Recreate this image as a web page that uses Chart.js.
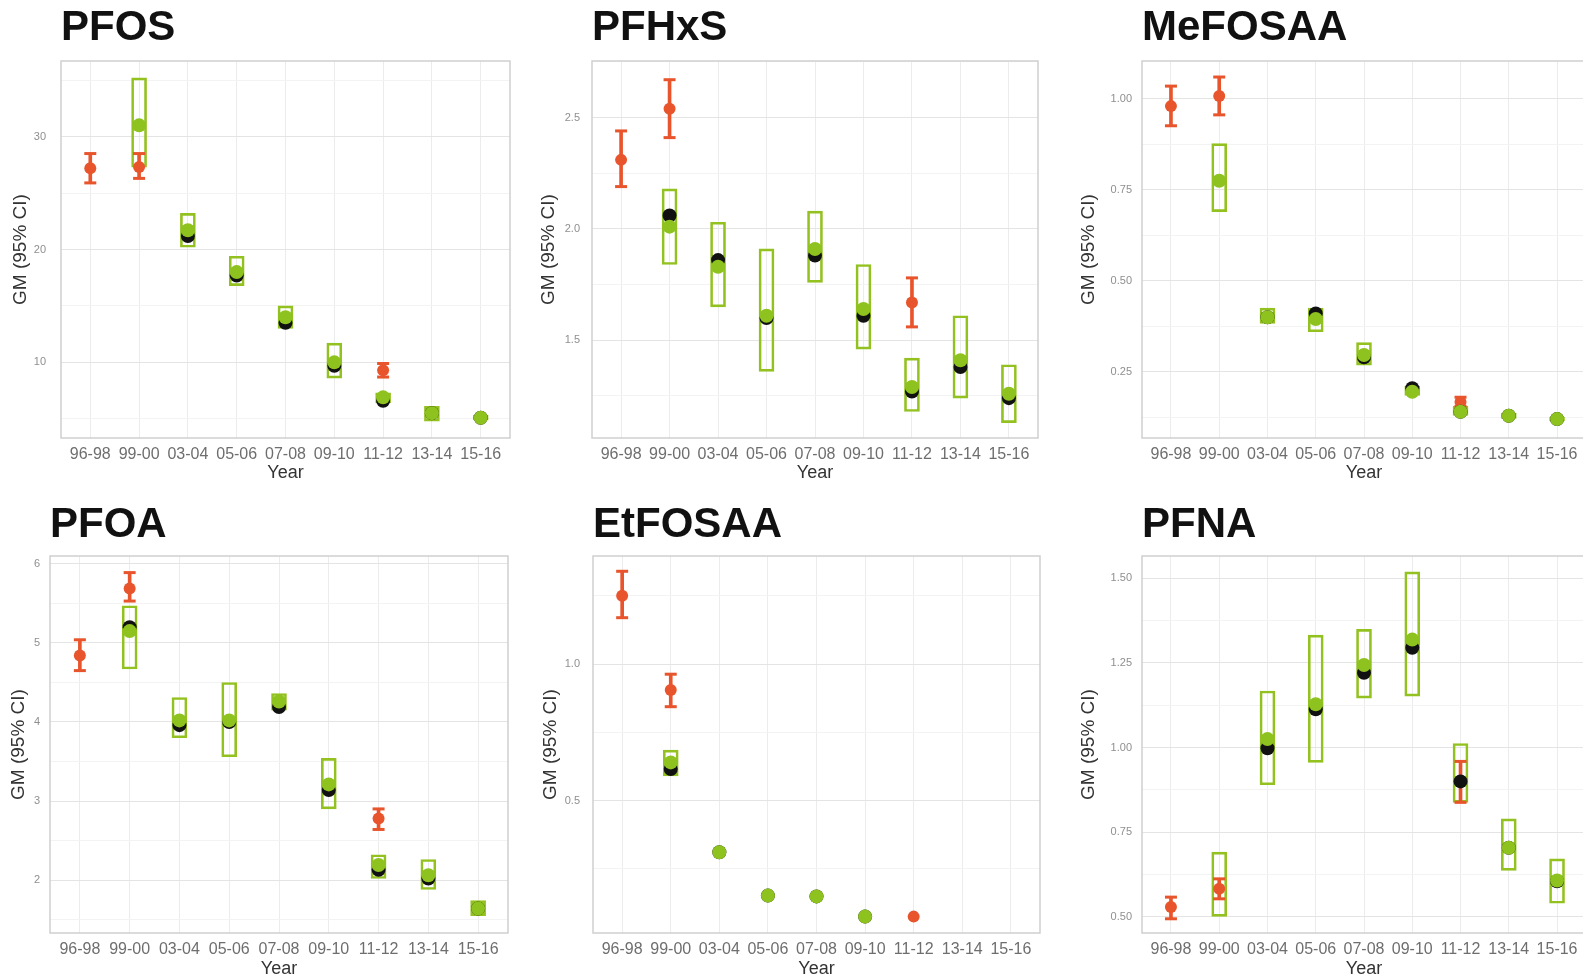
<!DOCTYPE html>
<html>
<head>
<meta charset="utf-8">
<script src="https://cdn.jsdelivr.net/npm/chart.js@4.4.1/dist/chart.umd.min.js"></script>
<style>
  html, body { margin: 0; padding: 0; background: #ffffff; }
  body { width: 1583px; height: 977px; overflow: hidden; position: relative; }
  .panel { position: absolute; }
  .panel canvas { display: block; }
</style>
</head>
<body>
<div class="panel" id="w1" style="left:0px;top:0px;width:530px;height:490px"><canvas id="c1"></canvas></div>
<div class="panel" id="w2" style="left:530px;top:0px;width:530px;height:490px"><canvas id="c2"></canvas></div>
<div class="panel" id="w3" style="left:1060px;top:0px;width:545px;height:490px"><canvas id="c3"></canvas></div>
<div class="panel" id="w4" style="left:0px;top:490px;width:530px;height:490px"><canvas id="c4"></canvas></div>
<div class="panel" id="w5" style="left:530px;top:490px;width:530px;height:490px"><canvas id="c5"></canvas></div>
<div class="panel" id="w6" style="left:1060px;top:490px;width:545px;height:490px"><canvas id="c6"></canvas></div>
<script>
// ---------------- DATA ----------------
const categories = ['96-98', '99-00', '03-04', '05-06', '07-08', '09-10', '11-12', '13-14', '15-16'];

// PFOS
const pfosTickLabels = ['10', '20', '30'];
const pfosRange = [3.3, 36.7];
const pfosRed   = [27.2, 27.3, null, null, null, null, 9.3, null, null];
const pfosRedLo = [25.9, 26.3, null, null, null, null, 8.7, null, null];
const pfosRedHi = [28.5, 28.5, null, null, null, null, 9.9, null, null];
const pfosGreen = [null, 31.0, 21.7, 18.0, 14.0, 10.0, 6.9, 5.5, 5.1];
const pfosBlack = [null, null, 21.2, 17.7, 13.5, 9.7, 6.6, 5.5, 5.1];
const pfosBoxLo = [null, 27.3, 20.2, 16.8, 13.0, 8.6, 6.4, 4.8, 4.9];
const pfosBoxHi = [null, 35.2, 23.2, 19.4, 15.0, 11.7, 7.3, 6.1, 5.3];

// PFHxS
const pfhxsTickLabels = ['1.5', '2.0', '2.5'];
const pfhxsRange = [1.061, 2.754];
const pfhxsRed   = [2.31, 2.54, null, null, null, null, 1.67, null, null];
const pfhxsRedLo = [2.19, 2.41, null, null, null, null, 1.56, null, null];
const pfhxsRedHi = [2.44, 2.67, null, null, null, null, 1.78, null, null];
const pfhxsGreen = [null, 2.01, 1.83, 1.61, 1.91, 1.64, 1.29, 1.41, 1.26];
const pfhxsBlack = [null, 2.06, 1.86, 1.60, 1.88, 1.61, 1.27, 1.38, 1.24];
const pfhxsBoxLo = [null, 1.84, 1.65, 1.36, 1.76, 1.46, 1.18, 1.24, 1.13];
const pfhxsBoxHi = [null, 2.18, 2.03, 1.91, 2.08, 1.84, 1.42, 1.61, 1.39];

// MeFOSAA
const mefosaaTickLabels = ['0.25', '0.50', '0.75', '1.00'];
const mefosaaRange = [0.068, 1.104];
const mefosaaRed   = [0.98, 1.008, null, null, null, null, 0.167, null, null];
const mefosaaRedLo = [0.926, 0.956, null, null, null, null, 0.155, null, null];
const mefosaaRedHi = [1.035, 1.06, null, null, null, null, 0.18, null, null];
const mefosaaGreen = [null, 0.775, 0.40, 0.395, 0.296, 0.195, 0.14, 0.129, 0.12];
const mefosaaBlack = [null, null, 0.40, 0.41, 0.29, 0.205, 0.14, 0.129, 0.12];
const mefosaaBoxLo = [null, 0.69, 0.383, 0.36, 0.268, 0.185, 0.13, 0.122, 0.115];
const mefosaaBoxHi = [null, 0.877, 0.425, 0.425, 0.33, 0.21, 0.155, 0.136, 0.125];

// PFOA
const pfoaTickLabels = ['2', '3', '4', '5', '6'];
const pfoaRange = [1.33, 6.10];
const pfoaRed   = [4.84, 5.69, null, null, null, null, 2.78, null, null];
const pfoaRedLo = [4.65, 5.53, null, null, null, null, 2.64, null, null];
const pfoaRedHi = [5.04, 5.89, null, null, null, null, 2.90, null, null];
const pfoaGreen = [null, 5.15, 4.02, 4.02, 4.26, 3.21, 2.19, 2.06, 1.64];
const pfoaBlack = [null, 5.20, 3.96, 4.00, 4.19, 3.14, 2.13, 2.02, 1.64];
const pfoaBoxLo = [null, 4.67, 3.80, 3.56, 4.15, 2.90, 2.02, 1.88, 1.55];
const pfoaBoxHi = [null, 5.47, 4.31, 4.50, 4.36, 3.54, 2.32, 2.26, 1.74];

// EtFOSAA
const etfosaaTickLabels = ['0.5', '1.0'];
const etfosaaRange = [0.015, 1.396];
const etfosaaRed   = [1.25, 0.905, null, null, null, null, 0.075, null, null];
const etfosaaRedLo = [1.17, 0.844, null, null, null, null, null, null, null];
const etfosaaRedHi = [1.34, 0.963, null, null, null, null, null, null, null];
const etfosaaGreen = [null, 0.64, 0.311, 0.152, 0.149, 0.075, null, null, null];
const etfosaaBlack = [null, 0.616, 0.311, 0.152, 0.149, 0.075, null, null, null];
const etfosaaBoxLo = [null, 0.59, null, null, null, null, null, null, null];
const etfosaaBoxHi = [null, 0.685, null, null, null, null, null, null, null];

// PFNA
const pfnaTickLabels = ['0.50', '0.75', '1.00', '1.25', '1.50'];
const pfnaRange = [0.452, 1.566];
const pfnaRed   = [0.529, 0.583, null, null, null, null, 0.902, null, null];
const pfnaRedLo = [0.494, 0.553, null, null, null, null, 0.838, null, null];
const pfnaRedHi = [0.558, 0.612, null, null, null, null, 0.959, null, null];
const pfnaGreen = [null, null, 1.025, 1.128, 1.244, 1.319, null, 0.704, 0.607];
const pfnaBlack = [null, null, 0.998, 1.113, 1.221, 1.295, 0.90, 0.704, 0.605];
const pfnaBoxLo = [null, 0.501, 0.89, 0.956, 1.146, 1.152, 0.838, 0.637, 0.54];
const pfnaBoxHi = [null, 0.691, 1.167, 1.332, 1.349, 1.519, 1.012, 0.789, 0.671];

// ---------------- STYLE ----------------
const FONT = '"Liberation Sans", Arial, Helvetica, sans-serif';
const RED = '#e8552d';
const GREEN = '#8dc21f';
const BOX = '#93c11f';
const BLACK = '#111111';

const panelBorder = {
  id: 'panelBorder',
  afterDraw(chart) {
    const { ctx, chartArea: a } = chart;
    ctx.save();
    ctx.strokeStyle = '#cfcfcf';
    ctx.lineWidth = 1.5;
    ctx.strokeRect(a.left, a.top, a.right - a.left, a.bottom - a.top);
    ctx.restore();
  }
};

function pts(vals) {
  const out = [];
  vals.forEach((v, i) => { if (v !== null) out.push({ x: i, y: v }); });
  return out;
}
function ranges(lo, hi) {
  const out = [];
  lo.forEach((v, i) => { if (v !== null && hi[i] !== null) out.push({ x: i, y: [v, hi[i]] }); });
  return out;
}

function makePanel(id, title, d, lay) {
  const majors = d.ticks.map(Number);
  const step = majors.length > 1 ? majors[1] - majors[0] : 0.5;
  const tickSet = [];
  majors.forEach(v => tickSet.push({ value: v, minor: false }));
  for (let k = -1; k < majors.length; k++) {
    const m = (k < 0 ? majors[0] - step / 2 : majors[k] + step / 2);
    if (m > d.range[0] && m < d.range[1]) tickSet.push({ value: m, minor: true });
  }
  tickSet.sort((a, b) => a.value - b.value);
  const labelOf = v => {
    const idx = majors.findIndex(m => Math.abs(m - v) < 1e-9);
    return idx >= 0 ? d.ticks[idx] : '';
  };

  const datasets = [
    { type: 'scatter', data: pts(d.green), backgroundColor: GREEN, borderColor: GREEN, borderWidth: 0, pointRadius: 7, order: 1 },
    { type: 'scatter', data: pts(d.black), backgroundColor: BLACK, borderColor: BLACK, borderWidth: 0, pointRadius: 7, order: 2 },
    { type: 'scatter', data: pts(d.red), backgroundColor: RED, borderColor: RED, borderWidth: 0, pointRadius: 6, order: 3 },
    { type: 'scatter', data: pts(d.redLo).concat(pts(d.redHi)), pointStyle: 'line', borderColor: RED, borderWidth: 3, pointRadius: 6, order: 4 },
    { type: 'bar', data: ranges(d.redLo, d.redHi), backgroundColor: RED, borderWidth: 0, barThickness: 3, grouped: false, order: 5 },
    { type: 'bar', data: ranges(d.boxLo, d.boxHi), backgroundColor: 'rgba(255,255,255,0)', borderColor: BOX, borderWidth: 2, borderSkipped: false, barThickness: 15, grouped: false, order: 6 }
  ];

  new Chart(document.getElementById(id), {
    type: 'scatter',
    data: { datasets },
    plugins: [panelBorder],
    options: {
      responsive: true,
      maintainAspectRatio: false,
      animation: false,
      events: [],
      layout: { padding: { left: 0, right: lay.padRight, top: 0, bottom: 0 } },
      plugins: {
        legend: { display: false },
        tooltip: { enabled: false },
        title: {
          display: true, text: title, align: 'start', fullSize: false, color: '#111111',
          font: { family: FONT, size: 42, weight: 'bold', lineHeight: 1 },
          padding: lay.titlePad
        }
      },
      scales: {
        x: {
          type: 'linear', min: -0.6, max: 8.6, offset: false,
          afterBuildTicks: s => { s.ticks = categories.map((c, i) => ({ value: i })); },
          afterFit: s => { s.height = lay.xH; },
          grid: { color: '#ececec', lineWidth: 1, drawTicks: false, offset: false },
          border: { display: false },
          ticks: {
            autoSkip: false, maxRotation: 0, minRotation: 0, padding: lay.xTickPad,
            color: '#6e6e6e', font: { family: FONT, size: 16 },
            callback: v => categories[Math.round(v)]
          },
          title: { display: true, text: 'Year', color: '#333333', font: { family: FONT, size: 18 }, padding: { top: 0, bottom: lay.xTitlePad } }
        },
        y: {
          type: 'linear', min: d.range[0], max: d.range[1],
          afterBuildTicks: s => { s.ticks = tickSet.map(t => ({ value: t.value, minor: t.minor })); },
          afterFit: s => { s.width = lay.yW; },
          grid: {
            drawTicks: false, lineWidth: 1,
            color: c => (c.tick && c.tick.minor) ? '#f3f3f3' : '#e4e4e4'
          },
          border: { display: false },
          ticks: {
            padding: lay.yTickPad, color: '#8f8f8f', font: { family: FONT, size: 11 },
            callback: v => labelOf(v)
          },
          title: { display: true, text: 'GM (95% CI)', color: '#333333', font: { family: FONT, size: 19 }, padding: { top: lay.yTitlePad, bottom: 0 } }
        }
      }
    }
  });
}

const row1 = { titlePad: { top: 7, bottom: 12 }, xH: 52, xTickPad: 7, xTitlePad: 6 };
const row2 = { titlePad: { top: 14, bottom: 10 }, xH: 47, xTickPad: 7, xTitlePad: 0 };

makePanel('c1', 'PFOS', { ticks: pfosTickLabels, range: pfosRange, red: pfosRed, redLo: pfosRedLo, redHi: pfosRedHi, green: pfosGreen, black: pfosBlack, boxLo: pfosBoxLo, boxHi: pfosBoxHi },
  Object.assign({ yW: 61, padRight: 20, yTitlePad: 9, yTickPad: 15 }, row1));
makePanel('c2', 'PFHxS', { ticks: pfhxsTickLabels, range: pfhxsRange, red: pfhxsRed, redLo: pfhxsRedLo, redHi: pfhxsRedHi, green: pfhxsGreen, black: pfhxsBlack, boxLo: pfhxsBoxLo, boxHi: pfhxsBoxHi },
  Object.assign({ yW: 62, padRight: 22, yTitlePad: 7, yTickPad: 12 }, row1));
makePanel('c3', 'MeFOSAA', { ticks: mefosaaTickLabels, range: mefosaaRange, red: mefosaaRed, redLo: mefosaaRedLo, redHi: mefosaaRedHi, green: mefosaaGreen, black: mefosaaBlack, boxLo: mefosaaBoxLo, boxHi: mefosaaBoxHi },
  Object.assign({ yW: 82, padRight: 19, yTitlePad: 17, yTickPad: 10 }, row1));
makePanel('c4', 'PFOA', { ticks: pfoaTickLabels, range: pfoaRange, red: pfoaRed, redLo: pfoaRedLo, redHi: pfoaRedHi, green: pfoaGreen, black: pfoaBlack, boxLo: pfoaBoxLo, boxHi: pfoaBoxHi },
  Object.assign({ yW: 50, padRight: 22, yTitlePad: 7, yTickPad: 10 }, row2));
makePanel('c5', 'EtFOSAA', { ticks: etfosaaTickLabels, range: etfosaaRange, red: etfosaaRed, redLo: etfosaaRedLo, redHi: etfosaaRedHi, green: etfosaaGreen, black: etfosaaBlack, boxLo: etfosaaBoxLo, boxHi: etfosaaBoxHi },
  Object.assign({ yW: 63, padRight: 20, yTitlePad: 9, yTickPad: 13 }, row2));
makePanel('c6', 'PFNA', { ticks: pfnaTickLabels, range: pfnaRange, red: pfnaRed, redLo: pfnaRedLo, redHi: pfnaRedHi, green: pfnaGreen, black: pfnaBlack, boxLo: pfnaBoxLo, boxHi: pfnaBoxHi },
  Object.assign({ yW: 82, padRight: 19, yTitlePad: 17, yTickPad: 10 }, row2));
</script>
</body>
</html>
